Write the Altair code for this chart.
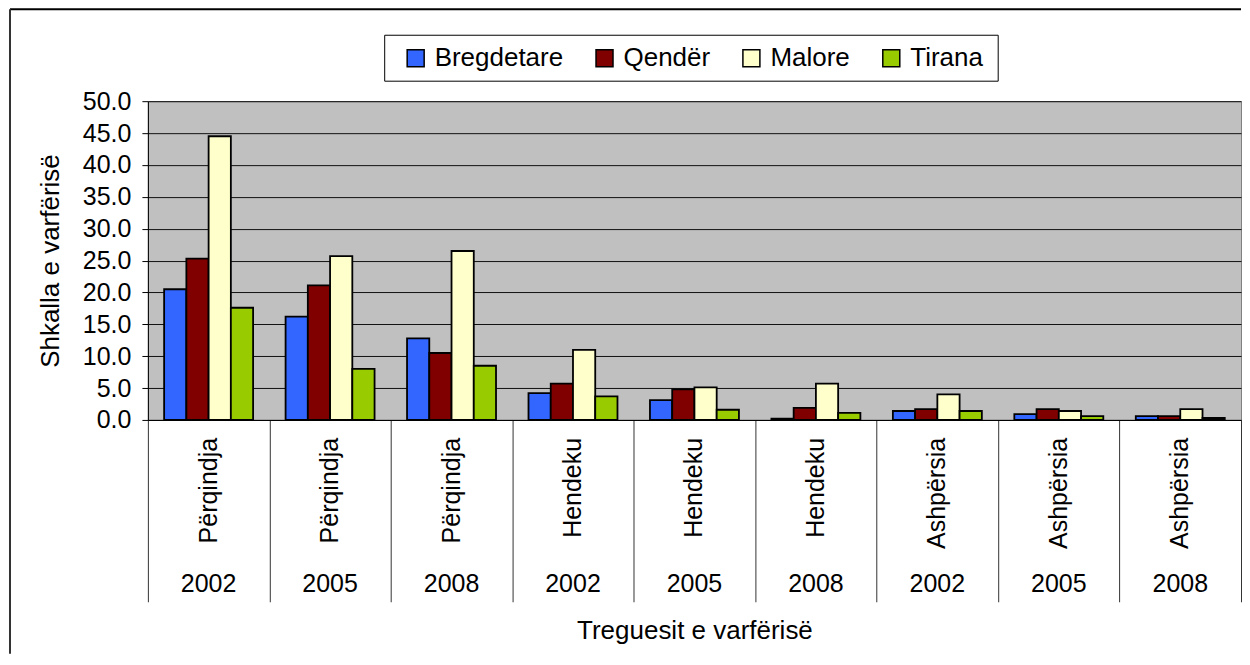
import altair as alt
import pandas as pd

# ---- data ----
indicators = ["Përqindja", "Përqindja", "Përqindja",
              "Hendeku", "Hendeku", "Hendeku",
              "Ashpërsia", "Ashpërsia", "Ashpërsia"]
years = ["2002", "2005", "2008", "2002", "2005", "2008", "2002", "2005", "2008"]
series_names = ["Bregdetare", "Qendër", "Malore", "Tirana"]
bregdetare = [20.5, 16.2, 12.8, 4.2, 3.1, 0.2, 1.4, 0.9, 0.6]
qender = [25.3, 21.1, 10.5, 5.7, 4.8, 1.9, 1.7, 1.7, 0.6]
malore = [44.5, 25.7, 26.5, 11.0, 5.1, 5.7, 4.0, 1.4, 1.7]
tirana = [17.6, 8.0, 8.5, 3.7, 1.6, 1.1, 1.4, 0.6, 0.3]
colors = ["#3366FF", "#800000", "#FFFFCC", "#99CC00"]
y_ticks = [0, 5, 10, 15, 20, 25, 30, 35, 40, 45, 50]

keys = [f"{i} {y}" for i, y in zip(indicators, years)]
rows = []
for s, vals in zip(series_names, [bregdetare, qender, malore, tirana]):
    for k, v in zip(keys, vals):
        rows.append({"key": k, "series": s, "value": v})
df = pd.DataFrame(rows)
cat_df = pd.DataFrame({"key": keys, "indicator": indicators, "year": years})

FONT = "Liberation Sans"
W, H = 1094, 319

x_enc = alt.X(
    "key:N",
    sort=keys,
    scale=alt.Scale(domain=keys, paddingInner=0, paddingOuter=0),
    axis=alt.Axis(
        title="Treguesit e varfërisë",
        labels=False,
        tickBand="extent",
        tickSize=182,
        tickColor="#333333",
        tickWidth=1,
        domainColor="black",
        domainWidth=1,
        titleFontSize=26,
        titleFontWeight="normal",
        titleColor="black",
        titlePadding=15,
        grid=False,
    ),
)

bars = alt.Chart(df).mark_bar(stroke="black", strokeWidth=1.8).encode(
    x=x_enc,
    xOffset=alt.XOffset(
        "series:N",
        sort=series_names,
        scale=alt.Scale(domain=series_names, paddingInner=0, paddingOuter=0.73),
    ),
    y=alt.Y(
        "value:Q",
        scale=alt.Scale(domain=[0, 50], nice=False, zero=True),
        axis=alt.Axis(
            title="Shkalla e varfërisë",
            values=y_ticks,
            format=".1f",
            labelFontSize=25,
            labelColor="black",
            labelPadding=11,
            tickSize=6,
            tickColor="black",
            domainColor="black",
            grid=True,
            gridColor="#111111",
            gridWidth=1,
            titleFontSize=26,
            titleFontWeight="normal",
            titleColor="black",
            titlePadding=19,
        ),
    ),
    color=alt.Color(
        "series:N",
        sort=series_names,
        scale=alt.Scale(domain=series_names, range=colors),
        legend=alt.Legend(
            title=None,
            orient="none",
            direction="horizontal",
            legendX=255,
            legendY=-56,
            padding=0,
            labelFontSize=26,
            labelColor="black",
            labelOffset=6,
            columnPadding=28,
            symbolType="square",
            symbolSize=289,
            symbolStrokeColor="black",
            symbolStrokeWidth=1.5,
            symbolOpacity=1,
        ),
    ),
)

ind_text = alt.Chart(cat_df).mark_text(
    angle=270, align="right", baseline="middle", fontSize=25, color="black"
).encode(x=alt.X("key:N", sort=keys), y=alt.value(337), text="indicator:N")

year_text = alt.Chart(cat_df).mark_text(
    align="center", baseline="middle", fontSize=25, color="black"
).encode(x=alt.X("key:N", sort=keys), y=alt.value(483), text="year:N")

one = alt.Data(values=[{"a": 1}])
frame_top = alt.Chart(one).mark_rule(color="black", strokeWidth=2).encode(
    x=alt.value(-138), x2=alt.value(1094), y=alt.value(-92)
)
frame_left = alt.Chart(one).mark_rule(color="#333333", strokeWidth=2).encode(
    x=alt.value(-138), y=alt.value(-92), y2=alt.value(553)
)
legend_box = alt.Chart(one).mark_rect(fill="white", stroke="black", strokeWidth=1).encode(
    x=alt.value(237), x2=alt.value(851), y=alt.value(-66), y2=alt.value(-20)
)

chart = alt.layer(frame_top, frame_left, legend_box, bars, ind_text, year_text).properties(
    width=W, height=H, padding={"left": 1, "top": 0, "right": 0, "bottom": 0}
).configure(font=FONT).configure_view(
    fill="#C0C0C0", stroke="#808080", strokeWidth=1
).configure_axis(labelFont=FONT, titleFont=FONT)

chart.save("out.html", embed_options={"renderer": "svg", "actions": False})
